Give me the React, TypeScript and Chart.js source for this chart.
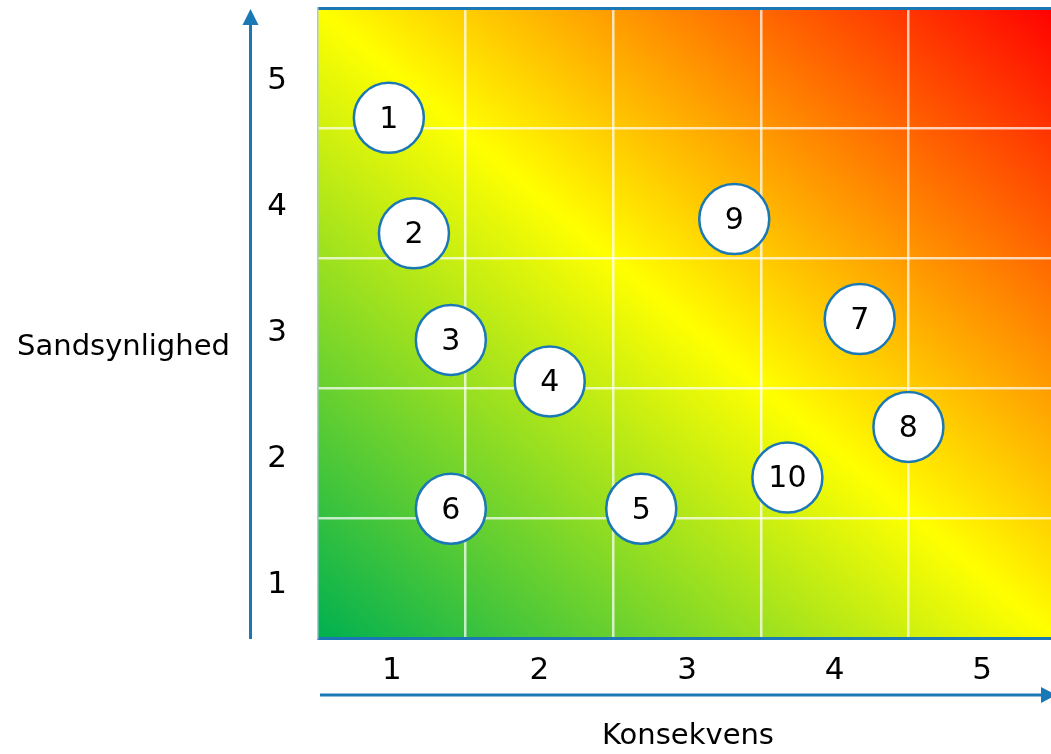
import React, { useEffect, useRef } from 'react';
import { Chart, registerables } from 'chart.js';

Chart.register(...registerables);

// ---- data ----
const riskIds = ['1', '2', '3', '4', '5', '6', '7', '8', '9', '10'];
const konsekvens = [0.98, 1.15, 1.4, 2.07, 2.69, 1.4, 4.17, 4.5, 3.32, 3.68];
const sandsynlighed = [4.58, 3.69, 2.87, 2.55, 1.57, 1.57, 3.03, 2.2, 3.8, 1.81];
const levels = [1, 2, 3, 4, 5];
const xTitle = 'Konsekvens';
const yTitle = 'Sandsynlighed';

const FONT = '"DejaVu Sans", Verdana, sans-serif';
const BLUE = '#1a78b4';
const GRID = 'rgba(255,255,255,0.72)';

const gradientPlugin = {
  id: 'riskGradient',
  beforeDraw(chart: any) {
    const { ctx, chartArea, scales } = chart;
    const x0 = scales.x.getPixelForValue(0.5);
    const x1 = scales.x.getPixelForValue(5.5);
    const y0 = chartArea.top;
    const y1 = chartArea.bottom;
    const w = x1 - x0;
    const h = y1 - y0;
    const cx = (x0 + x1) / 2;
    const cy = (y0 + y1) / 2;
    const k = (w * h) / (w * w + h * h);
    const g = ctx.createLinearGradient(cx - k * h, cy + k * w, cx + k * h, cy - k * w);
    g.addColorStop(0, '#00b050');
    g.addColorStop(0.5, '#ffff00');
    g.addColorStop(1, '#ff0000');
    ctx.save();
    ctx.fillStyle = g;
    ctx.fillRect(chartArea.left, chartArea.top, chartArea.right - chartArea.left, chartArea.bottom - chartArea.top);
    ctx.restore();
  },
};

const labelPlugin = {
  id: 'riskLabels',
  afterDatasetsDraw(chart: any) {
    const { ctx } = chart;
    const meta = chart.getDatasetMeta(0);
    ctx.save();
    ctx.font = `30px ${FONT}`;
    ctx.fillStyle = '#000';
    ctx.textAlign = 'center';
    ctx.textBaseline = 'middle';
    meta.data.forEach((pt: any, i: number) => {
      ctx.fillText(riskIds[i], pt.x, pt.y + 2);
    });
    ctx.restore();
  },
};

const axesPlugin = {
  id: 'axisArrows',
  afterDraw(chart: any) {
    const { ctx, chartArea } = chart;
    const ax = chartArea.left - 67.5;
    const ay = chartArea.bottom + 57;
    ctx.save();
    ctx.strokeStyle = BLUE;
    ctx.fillStyle = BLUE;
    ctx.lineWidth = 3;
    // vertical arrow
    ctx.beginPath();
    ctx.moveTo(ax, chartArea.bottom + 1);
    ctx.lineTo(ax, chartArea.top + 14);
    ctx.stroke();
    ctx.beginPath();
    ctx.moveTo(ax, chartArea.top + 1);
    ctx.lineTo(ax - 8, chartArea.top + 17);
    ctx.lineTo(ax + 8, chartArea.top + 17);
    ctx.closePath();
    ctx.fill();
    // horizontal arrow
    const xr = chart.scales.x.getPixelForValue(5.5);
    ctx.beginPath();
    ctx.moveTo(chartArea.left + 2, ay);
    ctx.lineTo(xr - 12, ay);
    ctx.stroke();
    ctx.beginPath();
    ctx.moveTo(xr, ay);
    ctx.lineTo(xr - 15, ay - 8);
    ctx.lineTo(xr - 15, ay + 8);
    ctx.closePath();
    ctx.fill();
    // titles
    ctx.fillStyle = '#000';
    ctx.font = `29px ${FONT}`;
    ctx.textAlign = 'center';
    ctx.textBaseline = 'alphabetic';
    ctx.fillText(yTitle, chartArea.left - 194.5, (chartArea.top + chartArea.bottom) / 2 + 32);
    ctx.fillText(xTitle, 688, chartArea.bottom + 106);
    ctx.restore();
  },
};

const setLevels = (s: any) => {
  s.ticks = levels.map((v) => ({ value: v }));
};

const fixSize = (w: number | null, h: number | null) => (s: any) => {
  if (w !== null) s.width = w;
  if (h !== null) s.height = h;
  s.paddingTop = 0;
  s.paddingBottom = 0;
  s.paddingLeft = 0;
  s.paddingRight = 0;
};

export default function App() {
  const ref = useRef<HTMLCanvasElement | null>(null);

  useEffect(() => {
    if (!ref.current) return;
    const tickFont = { family: FONT, size: 31 };
    const chart = new Chart(ref.current, {
      type: 'scatter',
      data: {
        datasets: [
          {
            data: konsekvens.map((x, i) => ({ x, y: sandsynlighed[i] })),
            xAxisID: 'x',
            yAxisID: 'y',
            pointRadius: 35,
            pointHoverRadius: 35,
            pointBackgroundColor: '#ffffff',
            pointBorderColor: BLUE,
            pointBorderWidth: 2.5,
            clip: false as any,
          },
        ],
      },
      options: {
        responsive: false,
        animation: false,
        events: [],
        layout: { autoPadding: false, padding: { top: 8, left: 0, right: 0, bottom: 0 } },
        plugins: { legend: { display: false }, tooltip: { enabled: false } },
        scales: {
          x: {
            type: 'linear',
            position: 'bottom',
            min: 0.5,
            max: 5.466,
            afterBuildTicks: setLevels,
            afterFit: fixSize(null, 116),
            grid: {
              offset: true,
              drawTicks: false,
              lineWidth: 2.5,
              color: (c: any) => (c.index === 0 ? 'rgba(0,0,0,0)' : GRID),
            },
            border: { display: true, color: BLUE, width: 3 },
            ticks: { padding: 14, color: '#000', font: tickFont, maxRotation: 0, callback: (v: any) => String(v) },
          },
          xTop: {
            type: 'linear',
            position: 'top',
            min: 0.5,
            max: 5.466,
            afterFit: fixSize(null, 0),
            grid: { display: false, drawTicks: false },
            border: { display: true, color: BLUE, width: 3 },
            ticks: { display: false },
          },
          y: {
            type: 'linear',
            position: 'left',
            weight: 0,
            min: 0.575,
            max: 5.425,
            afterBuildTicks: setLevels,
            afterFit: fixSize(0, null),
            grid: { offset: true, drawTicks: false, lineWidth: 2.5, color: GRID },
            border: { display: true, color: '#a7c9df', width: 1.5 },
            ticks: { display: false },
          },
          yl: {
            type: 'linear',
            position: 'left',
            weight: 1,
            min: 0.5,
            max: 5.5,
            afterBuildTicks: setLevels,
            afterFit: fixSize(318, null),
            grid: { display: false, drawTicks: false },
            border: { display: false },
            ticks: { padding: 31, labelOffset: 10, color: '#000', font: tickFont, callback: (v: any) => String(v) },
          },
        },
      } as any,
      plugins: [gradientPlugin, labelPlugin, axesPlugin],
    });
    return () => chart.destroy();
  }, []);

  return (
    <canvas
      ref={ref}
      width={1051}
      height={754}
      style={{ position: 'fixed', left: 0, top: 0, display: 'block' }}
    />
  );
}
